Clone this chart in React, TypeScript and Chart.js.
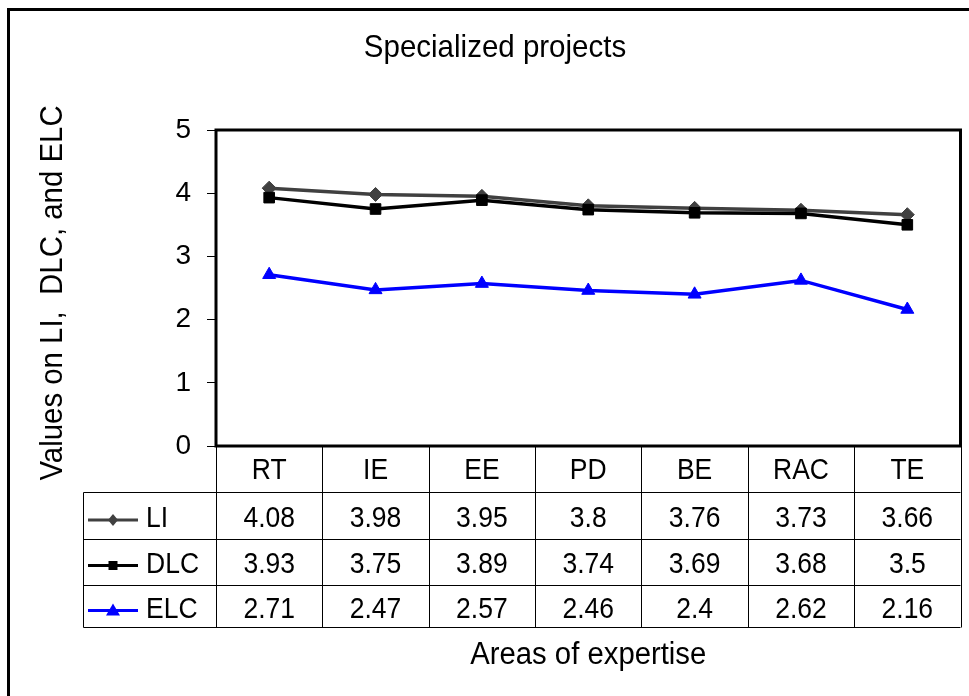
import React, { useEffect, useRef } from 'react';
import { Chart, registerables } from 'chart.js';

Chart.register(...registerables);

const categories = ['RT', 'IE', 'EE', 'PD', 'BE', 'RAC', 'TE'];
const liValues = [4.08, 3.98, 3.95, 3.8, 3.76, 3.73, 3.66];
const dlcValues = [3.93, 3.75, 3.89, 3.74, 3.69, 3.68, 3.5];
const elcValues = [2.71, 2.47, 2.57, 2.46, 2.4, 2.62, 2.16];
const yMin = 0;
const yMax = 5;
const yStep = 1;
const chartTitle = 'Specialized projects';
const xTitle = 'Areas of expertise';
const yTitle = 'Values on LI,  DLC, and ELC';

const FONT = '"Liberation Sans", Arial, Helvetica, sans-serif';

const series = [
  { name: 'LI', values: liValues, color: '#404040', style: 'rectRot', radius: 7, order: 2 },
  { name: 'DLC', values: dlcValues, color: '#000000', style: 'rect', radius: 7.5, order: 1 },
  { name: 'ELC', values: elcValues, color: '#0000FF', style: 'triangle', radius: 7.5, order: 3 },
];

function drawText(ctx: CanvasRenderingContext2D, text: string, x: number, y: number, size: number, align: CanvasTextAlign, sy = 1.08, rotate = 0) {
  ctx.save();
  ctx.translate(x, y);
  if (rotate) ctx.rotate(rotate);
  ctx.scale(1, sy);
  ctx.font = `${size}px ${FONT}`;
  ctx.textAlign = align;
  ctx.textBaseline = 'alphabetic';
  ctx.fillStyle = '#000';
  ctx.fillText(text, 0, 0);
  ctx.restore();
}

function drawMarker(ctx: CanvasRenderingContext2D, style: string, x: number, y: number, color: string) {
  ctx.save();
  ctx.fillStyle = color;
  ctx.beginPath();
  if (style === 'rectRot') {
    ctx.moveTo(x, y - 6);
    ctx.lineTo(x + 5, y);
    ctx.lineTo(x, y + 6);
    ctx.lineTo(x - 5, y);
    ctx.closePath();
  } else if (style === 'rect') {
    ctx.rect(x - 4.5, y - 4.5, 9, 9);
  } else {
    ctx.moveTo(x, y - 7);
    ctx.lineTo(x + 7, y + 5);
    ctx.lineTo(x - 7, y + 5);
    ctx.closePath();
  }
  ctx.fill();
  ctx.restore();
}

const decorPlugin = {
  id: 'decor',
  beforeDraw(chart: any) {
    const ctx = chart.ctx as CanvasRenderingContext2D;
    ctx.save();
    ctx.fillStyle = '#fff';
    ctx.fillRect(0, 0, chart.width, chart.height);
    ctx.restore();
  },
  afterDraw(chart: any) {
    const ctx = chart.ctx as CanvasRenderingContext2D;
    const area = chart.chartArea;
    const xs = chart.scales.x;

    // outer frame
    ctx.save();
    ctx.strokeStyle = '#000';
    ctx.lineWidth = 3;
    ctx.beginPath();
    ctx.moveTo(8.5, chart.height + 5);
    ctx.lineTo(8.5, 9.5);
    ctx.lineTo(chart.width + 5, 9.5);
    ctx.stroke();

    // plot frame
    ctx.strokeRect(area.left, area.top, area.right - area.left, area.bottom - area.top);
    ctx.restore();

    // titles
    drawText(ctx, chartTitle, 495, 57, 29.5, 'center', 1.06);
    drawText(ctx, xTitle, (area.left + area.right) / 2, 664, 29.3, 'center', 1.08);
    drawText(ctx, yTitle, 62, 293, 29.4, 'center', 1.06, -Math.PI / 2);

    // data table
    const n = categories.length;
    const step = (area.right - area.left) / n;
    const headerTop = area.bottom;
    const rowLines = [492.5, 539.5, 585.5, 627.5];
    const legendLeft = 83.5;

    ctx.save();
    ctx.strokeStyle = '#000';
    ctx.lineWidth = 1;
    ctx.beginPath();
    for (const y of rowLines) {
      ctx.moveTo(legendLeft, y);
      ctx.lineTo(area.right, y);
    }
    for (let i = 0; i <= n; i++) {
      const x = Math.round(xs.getPixelForValue(i) - step / 2) + 0.5;
      ctx.moveTo(x, headerTop);
      ctx.lineTo(x, rowLines[rowLines.length - 1]);
    }
    ctx.moveTo(legendLeft, rowLines[0]);
    ctx.lineTo(legendLeft, rowLines[rowLines.length - 1]);
    ctx.stroke();
    ctx.restore();

    const tableFont = 26.5;
    categories.forEach((c, i) => {
      drawText(ctx, c, xs.getPixelForValue(i), 479, tableFont, 'center');
    });
    const baselines = [527, 573, 618];
    const lineYs = [520, 565.5, 610.5];
    series.forEach((s, r) => {
      ctx.save();
      ctx.strokeStyle = s.color;
      ctx.lineWidth = 3;
      ctx.beginPath();
      ctx.moveTo(88, lineYs[r]);
      ctx.lineTo(138, lineYs[r]);
      ctx.stroke();
      ctx.restore();
      drawMarker(ctx, s.style, 113, lineYs[r], s.color);
      drawText(ctx, s.name, 146, baselines[r], tableFont, 'left');
      s.values.forEach((v, i) => {
        drawText(ctx, String(v), xs.getPixelForValue(i), baselines[r], tableFont, 'center');
      });
    });
  },
};

export default function App() {
  const ref = useRef<HTMLCanvasElement>(null);
  useEffect(() => {
    const canvas = ref.current;
    if (!canvas) return;
    const chart = new Chart(canvas, {
      type: 'line',
      data: {
        labels: categories,
        datasets: series.map((s) => ({
          label: s.name,
          data: s.values,
          borderColor: s.color,
          backgroundColor: s.color,
          pointBackgroundColor: s.color,
          pointBorderColor: s.color,
          borderWidth: 3.5,
          pointBorderWidth: 1,
          pointStyle: s.style as any,
          pointRadius: s.radius,
          tension: 0,
          fill: false,
          order: s.order,
        })),
      },
      options: {
        responsive: false,
        animation: false,
        devicePixelRatio: 1,
        layout: { padding: { top: 130, right: 8, bottom: 250, left: 0 } },
        plugins: {
          legend: { display: false },
          title: { display: false },
          tooltip: { enabled: false },
        },
        scales: {
          x: {
            type: 'category',
            display: false,
            offset: true,
          },
          y: {
            min: yMin,
            max: yMax,
            ticks: {
              stepSize: yStep,
              padding: 16,
              color: '#000',
              font: { family: FONT, size: 28 },
            },
            grid: {
              drawOnChartArea: false,
              drawTicks: true,
              tickLength: 9,
              color: '#000',
              lineWidth: 1,
            },
            border: { display: false },
            afterFit: (scale: any) => {
              scale.width = 216;
            },
          },
        },
      },
      plugins: [decorPlugin],
    });
    return () => chart.destroy();
  }, []);
  return (
    <div style={{ position: 'fixed', left: 0, top: 0, width: 969, height: 696, background: '#fff' }}>
      <canvas ref={ref} width={969} height={696} style={{ display: 'block', width: 969, height: 696 }} />
    </div>
  );
}
